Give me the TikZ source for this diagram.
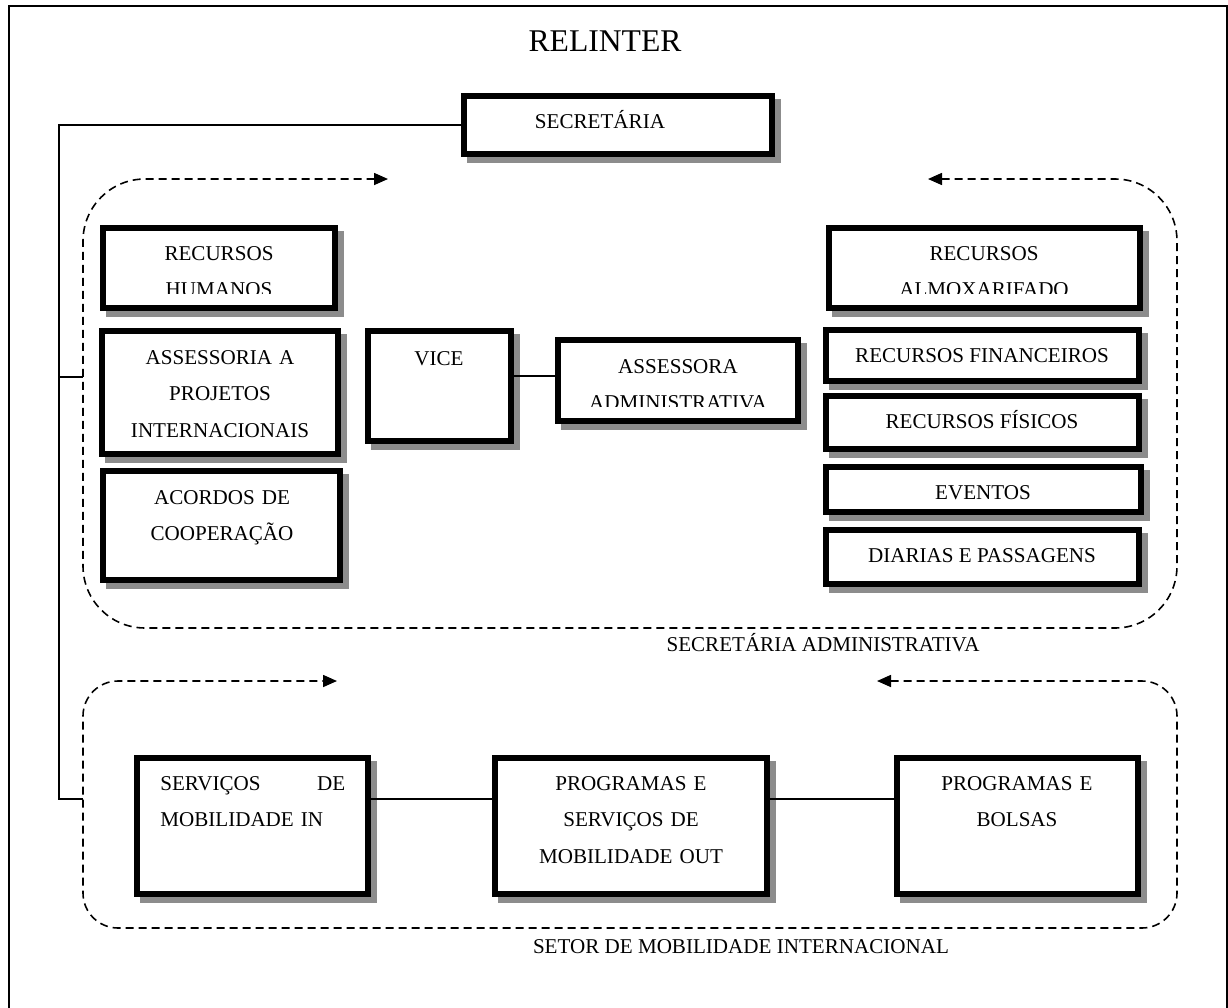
\documentclass[tikz,border=0pt]{standalone}
\usepackage{fontspec}
\setmainfont{Liberation Serif}
\usetikzlibrary{arrows.meta,shadows}
\begin{document}
\begin{tikzpicture}[x=0.02cm, y=-0.02cm, font=\fontsize{12}{20.8}\selectfont, line join=miter, >={Triangle[length=0.28cm,width=0.24cm]},
		box/.style={draw, line width=0.12cm, fill=white, inner sep=0pt,
			drop shadow={shadow xshift=0.12cm, shadow yshift=-0.12cm, opacity=1, fill=black!45, draw=black!45, line width=0.12cm}},
		bx/.style 2 args={box, minimum width=#1*0.02cm-0.12cm, minimum height=#2*0.02cm-0.12cm},
		txt/.style={anchor=base, inner sep=0pt},
		lines/.style={txt, text width=4.6cm, align=center},
		link/.style={line width=0.8pt},
		group/.style={<->, dash pattern=on 0.16cm off 0.1cm, line width=0.9pt}]
		\useasboundingbox (0,0) rectangle (1228,1008);
		\draw[line width=0.04cm] (9,1010) -- (9,6) -- (1227,6) -- (1227,1010);
		\node[txt, font=\fontsize{18}{22}\selectfont] (title) at (605,51) {RELINTER};
		\coordinate (trunk) at (59,799);
		\coordinate (adm-w) at (83,377);
		\coordinate (mob-w) at (83,799);
		\coordinate (vice-link) at (0,376);
		\draw[group, rounded corners=1.24cm] (928,179) -- (1177,179) -- (1177,628) -- (83,628) -- (83,179) -- (388,179);
		\draw[group, rounded corners=0.7cm] (877,681) -- (1177,681) -- (1177,928) -- (83,928) -- (83,681) -- (337,681);
		\node[bx={314}{64}] (sec) at (618,125) {};
		\node[bx={238}{86}] (hum) at (219,268) {};
		\node[bx={242}{129}] (proj) at (220,392.5) {};
		\node[bx={243}{115}] (acord) at (221.5,525.5) {};
		\node[bx={149}{116}] (vice) at (439.5,386) {};
		\node[bx={246}{87}] (asr) at (678,380.5) {};
		\node[bx={317}{86}] (alm) at (984.5,268) {};
		\node[bx={319}{57}] (fin) at (982.5,355.5) {};
		\node[bx={319}{59}] (fis) at (982.5,422.5) {};
		\node[bx={321}{51}] (evt) at (983.5,489.5) {};
		\node[bx={319}{60}] (diar) at (982.5,557) {};
		\node[bx={237}{142}] (serin) at (252.5,826) {};
		\node[bx={278}{142}] (progout) at (631,826) {};
		\node[bx={247}{142}] (bolsas) at (1017.5,826) {};
		\draw[link] (sec.west) -| (trunk) -- (mob-w);
		\draw[link] (trunk |- adm-w) -- (adm-w);
		\draw[link] (vice.east |- vice-link) -- (asr.west |- vice-link);
		\draw[link] (serin.east |- mob-w) -- (progout.west |- mob-w);
		\draw[link] (progout.east |- mob-w) -- (bolsas.west |- mob-w);
		\node[txt] (sec-t) at (600,128) {SECRETÁRIA};
		\begin{scope}
			\clip (100,225) rectangle (338,293.5);
			\node[lines] (hum-t) at (219,260) {RECURSOS\\HUMANOS};
		\end{scope}
		\node[lines] (proj-t) at (220,364) {ASSESSORIA A\\PROJETOS\\INTERNACIONAIS};
		\node[lines] (acord-t) at (222,504) {ACORDOS DE\\COOPERAÇÃO};
		\node[txt] (vice-t) at (439,365) {VICE};
		\begin{scope}
			\clip (555,337) rectangle (801,406.5);
			\node[lines] (asr-t) at (678,373) {ASSESSORA\\ADMINISTRATIVA};
		\end{scope}
		\begin{scope}
			\clip (826,225) rectangle (1143,293.5);
			\node[lines] (alm-t) at (984,260) {RECURSOS\\ALMOXARIFADO};
		\end{scope}
		\node[txt] (fin-t) at (982,362) {RECURSOS FINANCEIROS};
		\node[txt] (fis-t) at (982,428) {RECURSOS FÍSICOS};
		\node[txt] (evt-t) at (983,499) {EVENTOS};
		\node[txt] (diar-t) at (982,562) {DIARIAS E PASSAGENS};
		\node[txt, anchor=base west, text width=3.7cm, align=left] (serin-t) at (160,790) {SERVIÇOS\hfill DE\\MOBILIDADE IN};
		\node[lines] (progout-t) at (631,790) {PROGRAMAS E\\SERVIÇOS DE\\MOBILIDADE OUT};
		\node[lines] (bolsas-t) at (1017,790) {PROGRAMAS E\\BOLSAS};
		\node[txt] (adm-l) at (823,651) {SECRETÁRIA ADMINISTRATIVA};
		\node[txt] (mob-l) at (741,953) {SETOR DE MOBILIDADE INTERNACIONAL};
	\end{tikzpicture}
\end{document}
